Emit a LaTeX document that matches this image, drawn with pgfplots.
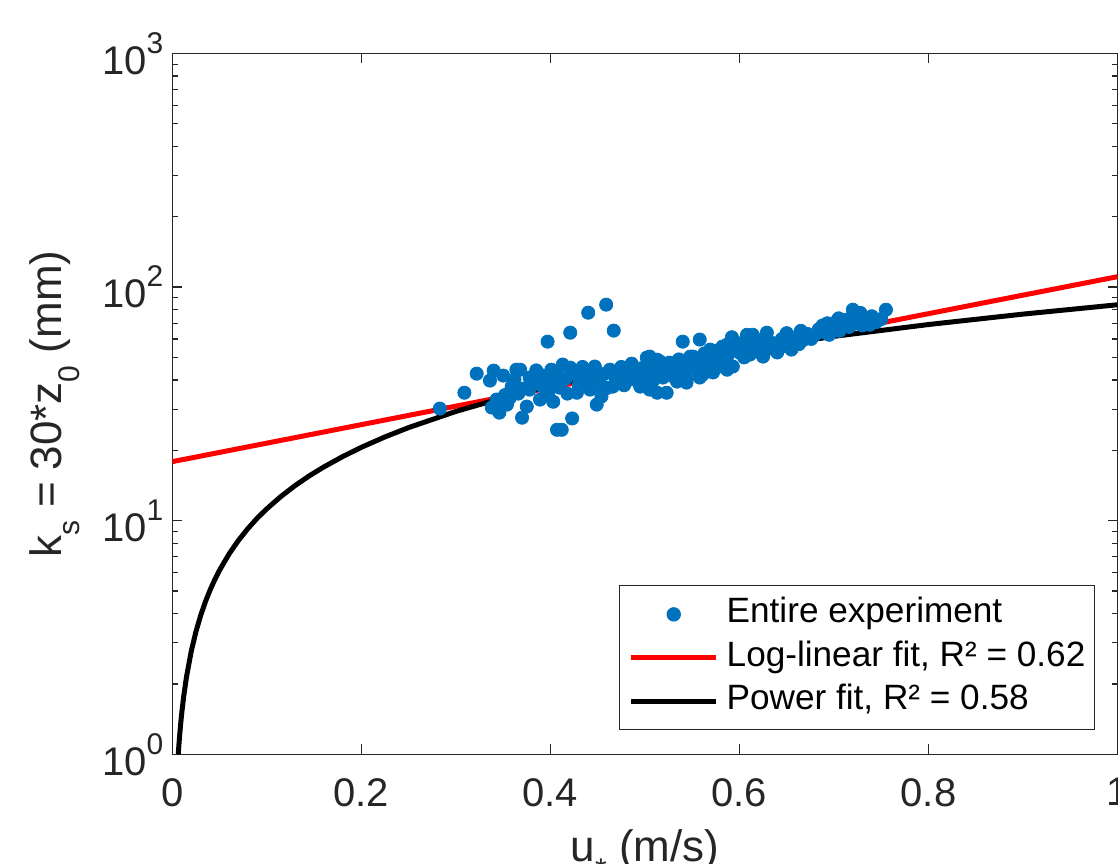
\documentclass[border=0pt]{standalone}
\usepackage{pgfplots}
\pgfplotsset{compat=1.18}
\usepackage{fontspec}
\setmainfont{Liberation Sans}
\definecolor{mblue}{rgb}{0,0.447,0.741}
\definecolor{axgray}{rgb}{0.15,0.15,0.15}
\newcommand{\tkf}{\fontsize{20}{24}\selectfont}
\newcommand{\pw}[1]{10\raisebox{10.5pt}{\fontsize{15}{15}\selectfont #1}}
\newcommand{\sbs}[1]{\raisebox{-9pt}{\fontsize{15}{15}\selectfont #1}}
\begin{document}
\begin{tikzpicture}
\begin{axis}[
  scale only axis, width=473pt, height=350.75pt,
  xmin=0, xmax=1, ymin=1, ymax=1000, ymode=log,
  axis line style={axgray, line width=0.6pt},
  every tick/.style={axgray, line width=0.6pt},
  major tick length=5pt, minor tick length=3pt,
  tick align=inside,
  xtick={0,0.2,0.4,0.6,0.8,1}, xticklabels={0,0.2,0.4,0.6,0.8,1},
  ytick={1,10,100,1000}, yticklabels={\pw{0},\pw{1},\pw{2},\pw{3}},
  minor x tick num=0,
  ticklabel style={font=\tkf, text=axgray},
  xticklabel style={yshift=-8.5pt},
  yticklabel style={xshift=-1pt},
  xlabel={u\sbs{*} (m/s)},
  ylabel={k\sbs{s} = 30*z\sbs{0} (mm)},
  xlabel style={at={(axis description cs:0.5,0)}, anchor=base, yshift=-53.5pt, font=\fontsize{22}{26}\selectfont, text=axgray},
  ylabel style={at={(axis description cs:-0.1168,0.5)}, anchor=base, font=\fontsize{22}{26}\selectfont, text=axgray},
  legend style={at={(0.9762,0.0342)}, anchor=south east, draw=axgray, line width=0.6pt, fill=white,
    font=\fontsize{17.6}{18}\selectfont, inner xsep=4.5pt, inner ysep=3.5pt,
    nodes={inner xsep=0pt, inner ysep=2.1pt, text height=13pt, text depth=4.5pt},
    /tikz/every odd column/.append style={column sep=4pt}},
  legend cell align=left,
  legend image code/.code={\draw[mark repeat=2,mark phase=2,#1] plot coordinates {(0pt,0pt) (21.25pt,0pt) (42.5pt,0pt)};},
]
\addplot[only marks, mark=*, mark size=3.3pt, color=mblue, mark options={draw=mblue, fill=mblue}] coordinates {
(0.283,30.2) (0.309,35.3) (0.322,42.6) (0.336,39.8) (0.338,30.5) (0.340,43.9) (0.343,33.0) (0.346,29.0)
(0.349,32.0) (0.350,41.8) (0.352,34.5) (0.354,31.4) (0.357,33.5) (0.359,37.5) (0.362,40.2) (0.364,44.3)
(0.366,35.0) (0.368,44.3) (0.370,27.6) (0.372,36.8)
(0.375,30.8) (0.378,41.0) (0.378,36.4) (0.382,38.5) (0.385,44.0) (0.389,42.2) (0.389,33.0) (0.392,37.5)
(0.395,40.0) (0.397,58.4) (0.398,35.5) (0.401,44.3) (0.403,32.3) (0.405,39.0) (0.407,24.5) (0.408,42.0)
(0.410,37.1) (0.412,24.5) (0.413,46.6) (0.416,40.5) (0.418,35.0) (0.421,45.2) (0.421,63.8) (0.423,27.4)
(0.425,42.5) (0.428,35.3) (0.430,38.0) (0.431,39.4) (0.434,45.5) (0.436,43.5) (0.438,40.5) (0.440,77.7)
(0.442,36.4) (0.445,41.5) (0.447,45.7) (0.449,31.4) (0.450,38.5) (0.452,40.2) (0.454,34.0) (0.457,42.5)
(0.459,84.1) (0.460,37.0) (0.463,44.3) (0.466,37.5) (0.467,65.1) (0.469,40.5)
(0.473,41.0) (0.475,45.5) (0.478,38.0) (0.481,44.3) (0.484,40.2) (0.486,47.0) (0.488,42.5) (0.491,43.1)
(0.493,39.5) (0.495,37.5) (0.497,45.0) (0.500,41.5) (0.502,49.9) (0.504,44.0) (0.505,36.4) (0.505,50.4)
(0.508,39.4) (0.510,46.0) (0.513,48.9) (0.513,35.3) (0.516,43.1) (0.516,48.0) (0.519,41.0) (0.523,45.7)
(0.523,35.3) (0.526,47.5) (0.530,41.4) (0.532,44.0) (0.534,39.4) (0.536,49.0) (0.537,45.7) (0.540,58.4)
(0.541,42.5) (0.544,40.2) (0.544,39.0) (0.546,47.0) (0.548,50.4) (0.551,50.4) (0.553,44.5) (0.556,48.0)
(0.558,59.6) (0.558,41.0)
(0.561,42.2) (0.561,47.5) (0.563,52.0) (0.566,45.0) (0.569,54.0) (0.569,52.4) (0.572,43.1) (0.574,49.0)
(0.577,53.5) (0.579,45.7) (0.582,55.6) (0.584,51.0) (0.587,50.4) (0.587,56.7) (0.587,44.3) (0.590,53.0)
(0.592,61.0) (0.593,59.6) (0.593,45.7) (0.596,55.0) (0.600,52.4) (0.602,57.5) (0.605,50.0) (0.608,61.4)
(0.608,62.5) (0.611,51.4) (0.612,55.5) (0.614,54.0) (0.614,62.5) (0.617,58.0) (0.618,59.6) (0.621,53.0)
(0.623,56.0) (0.625,50.4) (0.627,58.5) (0.629,63.8) (0.631,54.5) (0.634,57.0)
(0.636,57.5) (0.640,52.5) (0.645,60.0) (0.648,56.0) (0.650,63.5) (0.652,58.5) (0.655,54.0) (0.660,61.0)
(0.663,57.0) (0.665,65.0) (0.668,59.5) (0.672,63.0) (0.676,60.0) (0.680,62.5) (0.684,66.0) (0.688,68.5)
(0.690,64.0) (0.693,70.0) (0.695,62.5) (0.697,66.5) (0.700,68.0) (0.703,71.5) (0.705,73.5) (0.706,65.0)
(0.710,69.0) (0.713,72.5) (0.716,67.5) (0.720,80.0) (0.722,70.0) (0.726,74.0) (0.728,77.5) (0.730,68.5)
(0.735,72.0) (0.738,69.0) (0.740,75.0) (0.745,71.0) (0.750,73.0) (0.755,80.0)
};
\addlegendentry{Entire experiment}
\addplot[red, line width=2.5pt] coordinates {(0,17.9) (1,110.8)};
\addlegendentry{Log-linear fit, R² = 0.62\hspace{2.5pt}}
\addplot[black, line width=2.5pt, line join=round] coordinates {
(0.00625,1.0) (0.0065,1.035) (0.007,1.104) (0.008,1.241) (0.009,1.375) (0.01,1.508) (0.012,1.768)
(0.015,2.148) (0.02,2.761) (0.025,3.355) (0.03,3.934) (0.035,4.501) (0.04,5.057) (0.045,5.604)
(0.05,6.144) (0.06,7.205) (0.07,8.242) (0.08,9.262) (0.09,10.27) (0.1,11.25) (0.115,12.71)
(0.13,14.15) (0.145,15.57) (0.16,16.96) (0.18,18.80) (0.2,20.61) (0.225,22.84) (0.25,25.04)
(0.3,29.36) (0.35,33.59) (0.4,37.75) (0.45,41.83) (0.5,45.86) (0.55,49.84) (0.6,53.77) (0.7,61.53)
(0.8,69.14) (0.9,76.61) (1.0,84.0)
};
\addlegendentry{Power fit, R² = 0.58}
\coordinate (BL) at (rel axis cs:0,0);
\coordinate (TR) at (rel axis cs:1,1);
\end{axis}
\pgfresetboundingbox
\path[use as bounding box] ([xshift=-86.25pt,yshift=-54.5pt]BL) rectangle ([xshift=0.25pt,yshift=26.75pt]TR);
\end{tikzpicture}
\end{document}
